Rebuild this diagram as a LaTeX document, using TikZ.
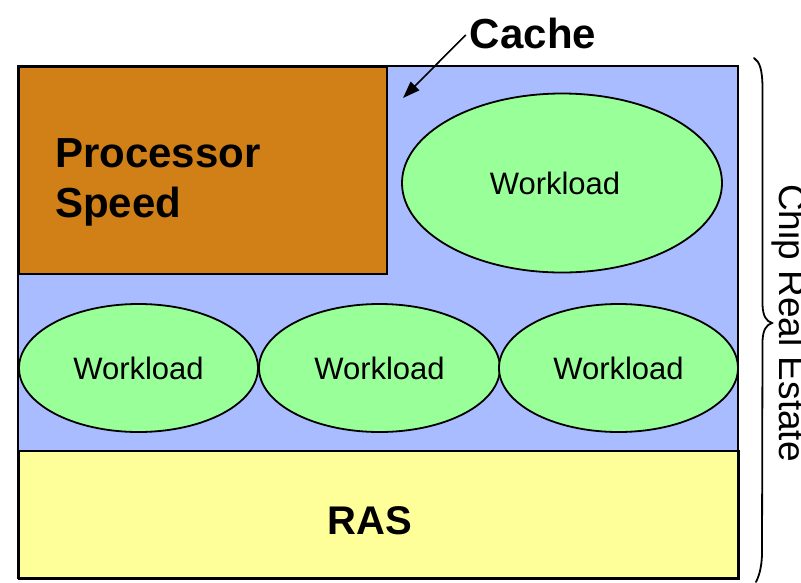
\documentclass[tikz,border=0pt]{standalone}
\usepackage{fontspec}
\setmainfont{Liberation Sans}
\usetikzlibrary{arrows.meta,shapes.geometric}
\definecolor{procC}{HTML}{D08016}
\definecolor{blueC}{HTML}{A9BCFF}
\definecolor{greenC}{HTML}{99FF99}
\definecolor{yellowC}{HTML}{FFFF99}
\tikzset{
  box/.style={draw=black, line width=2.2pt},
  wl/.style={ellipse, draw=black, line width=1.8pt, fill=greenC, inner sep=0pt,
    font=\fontsize{31}{36}\selectfont},
  bigtxt/.style={font=\bfseries\fontsize{42}{50}\selectfont, inner sep=0pt},
}
\begin{document}
\begin{tikzpicture}[x=1pt,y=-1pt]
\clip (0,0) rectangle (801,582);
\fill[white] (0,0) rectangle (801,582);
% chip areas
\fill[blueC] (18,66) rectangle (738,450);
\node[box, fill=yellowC, minimum width=720pt, minimum height=128pt, inner sep=0pt, anchor=north west] (ras) at (18,450) {};
\node[box, fill=procC, minimum width=368pt, minimum height=207pt, inner sep=0pt, anchor=north west] (proc) at (18,66) {};
\draw[box] (18,66) rectangle (738,578);
% workloads
\node[wl, minimum width=320pt, minimum height=179pt] (w0) at (562,183) {\hspace{-14pt}Workload};
\node[wl, minimum width=239pt, minimum height=128pt] (w1) at (138.5,368) {Workload};
\node[wl, minimum width=241pt, minimum height=128pt] (w2) at (379.5,368) {Workload};
\node[wl, minimum width=239pt, minimum height=128pt] (w3) at (618.5,368) {Workload};
% labels
\node[bigtxt, anchor=base west] (p1) at (55,167) {Processor};
\node[bigtxt, anchor=base west] (p2) at (55,217) {Speed};
\node[bigtxt, font=\bfseries\fontsize{40}{48}\selectfont, anchor=base] (rast) at (370,534) {RAS};
\node[bigtxt, anchor=base] (cache) at (533,48) {Cache};
\coordinate (cachetip) at (403,98);
\draw[line width=1.6pt, -{Triangle[length=17pt,width=12pt]}] (cache.west) ++(-4,2) -- (cachetip);
% brace
\coordinate (btop) at (754,58);
\coordinate (btip) at (772,323);
\coordinate (bbot) at (756,582);
\draw[line width=1.8pt, line cap=round]
  (btop) .. controls (760,62) and (762,70) .. (762.5,85)
  -- (762.5,305) .. controls (763,316) and (766,321) .. (btip)
  .. controls (766,325) and (763,330) .. (762.5,341)
  -- (762,555) .. controls (761.5,568) and (759,576) .. (bbot);
\node[font=\fontsize{37}{44}\selectfont, rotate=-90, anchor=base, inner sep=0pt] (chip) at (779,323) {Chip Real Estate};
\end{tikzpicture}
\end{document}
